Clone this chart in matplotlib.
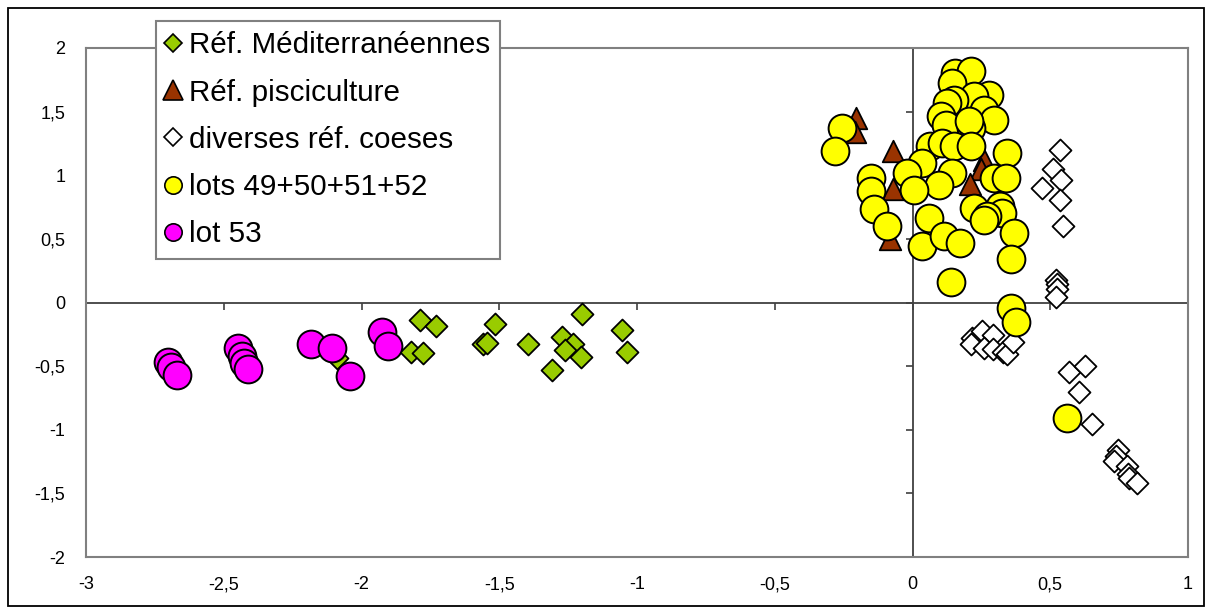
import matplotlib
matplotlib.use("Agg")
import matplotlib.pyplot as plt
from matplotlib.lines import Line2D
from matplotlib.patches import Rectangle

plt.rcParams['font.family'] = ['Liberation Sans', 'DejaVu Sans']

# --- data ---
med_x = [-2.09, -1.786, -1.728, -1.82, -1.776, -1.517, -1.56, -1.546, -1.394, -1.198,
         -1.272, -1.232, -1.262, -1.205, -1.307, -1.053, -1.038]
med_y = [-0.44, -0.139, -0.186, -0.39, -0.395, -0.17, -0.33, -0.322, -0.327, -0.092,
         -0.275, -0.325, -0.374, -0.427, -0.532, -0.217, -0.39]

pisc_x = [-0.205, -0.21, -0.07, -0.07, -0.08, 0.26, 0.25, 0.21]
pisc_y = [1.45, 1.34, 1.19, 0.89, 0.50, 1.12, 1.05, 0.93]

coes_x = [0.522, 0.525, 0.523, 0.522, 0.217, 0.253, 0.293, 0.213, 0.259, 0.293, 0.329,
          0.344, 0.364, 0.568, 0.626, 0.605, 0.653, 0.747, 0.739, 0.731, 0.779, 0.782,
          0.785, 0.816, 0.537, 0.511, 0.54, 0.471, 0.537, 0.547]
coes_y = [0.175, 0.149, 0.107, 0.045, -0.278, -0.225, -0.259, -0.33, -0.356, -0.364, -0.39,
          -0.403, -0.312, -0.547, -0.5, -0.705, -0.956, -1.16, -1.207, -1.246, -1.286, -1.351,
          -1.377, -1.417, 1.197, 1.05, 0.966, 0.901, 0.809, 0.6]

lots_x = [0.156, 0.211, 0.144, 0.277, 0.223, 0.15, 0.126, 0.259, 0.295, 0.102, 0.12, 0.211,
          0.204, 0.065, 0.108, 0.15, 0.211, 0.344, 0.035, -0.019, 0.144, 0.096, 0.005,
          -0.152, -0.152, -0.14, 0.223, 0.295, 0.338, 0.319, 0.326, 0.271, 0.368, -0.092,
          0.059, 0.035, 0.114, 0.174, 0.356, 0.138, 0.356, 0.376, 0.559, -0.255, -0.283,
          0.259]
lots_y = [1.804, 1.817, 1.726, 1.634, 1.62, 1.595, 1.569, 1.516, 1.438, 1.464, 1.398, 1.372,
          1.424, 1.228, 1.254, 1.228, 1.228, 1.176, 1.097, 1.019, 1.019, 0.927, 0.888,
          0.979, 0.874, 0.731, 0.744, 0.979, 0.979, 0.757, 0.705, 0.678, 0.548, 0.6,
          0.665, 0.442, 0.521, 0.469, 0.338, 0.16, -0.042, -0.152, -0.909, 1.372, 1.194,
          0.652]

lot53_x = [-2.703, -2.693, -2.671, -2.448, -2.434, -2.427, -2.411, -2.185, -2.106, -2.042,
           -1.924, -1.903]
lot53_y = [-0.469, -0.505, -0.571, -0.361, -0.42, -0.474, -0.521, -0.325, -0.356, -0.579,
           -0.233, -0.338]

xticks = [-3, -2.5, -2, -1.5, -1, -0.5, 0, 0.5, 1]
yticks = [-2, -1.5, -1, -0.5, 0, 0.5, 1, 1.5, 2]

labels = ['Réf. Méditerranéennes', 'Réf. pisciculture', 'diverses réf. coeses',
          'lots 49+50+51+52', 'lot 53']


def fmt(v):
    return ('%g' % v).replace('.', ',')


fig = plt.figure(figsize=(12.12, 6.10), dpi=100)
ax = fig.add_axes([86 / 1212, 1 - 557 / 610, (1188 - 86) / 1212, (557 - 48) / 610])

edge = 'black'
ax.scatter(med_x, med_y, marker='D', s=125, c='#99CC00', edgecolors=edge, linewidths=1.3, zorder=3)
ax.scatter(pisc_x, pisc_y, marker='^', s=240, c='#993300', edgecolors=edge, linewidths=1.3, zorder=4)
ax.scatter(coes_x, coes_y, marker='D', s=125, c='white', edgecolors=edge, linewidths=1.3, zorder=5)
ax.scatter(lots_x, lots_y, marker='o', s=400, c='#FFFF00', edgecolors=edge, linewidths=1.4, zorder=6)
ax.scatter(lot53_x, lot53_y, marker='o', s=400, c='#FF00FF', edgecolors=edge, linewidths=1.4, zorder=7)

ax.set_xlim(-3, 1)
ax.set_ylim(-2, 2)
ax.set_xticks(xticks)
ax.set_yticks(yticks)
ax.set_xticklabels([fmt(v) for v in xticks], fontsize=13)
ax.set_yticklabels([fmt(v) for v in yticks], fontsize=13)
ax.tick_params(length=0, pad=15)
ax.tick_params(axis='x', pad=14)
for sp in ax.spines.values():
    sp.set_color('#808080')
    sp.set_linewidth(1.5)

# axes crossing at zero, with small tick marks
ax.axhline(0, color='#404040', lw=1.3, zorder=1)
ax.axvline(0, color='#404040', lw=1.3, zorder=1)
ax.plot(xticks, [0] * len(xticks), ls='none', marker=3, ms=5, mew=1.2, color='#404040', zorder=1)
ax.plot([0] * len(yticks), yticks, ls='none', marker=0, ms=5, mew=1.2, color='#404040', zorder=1)

handles = [
    Line2D([], [], ls='none', marker='D', ms=9.5, mfc='#99CC00', mec=edge, mew=1.2),
    Line2D([], [], ls='none', marker='^', ms=14, mfc='#993300', mec=edge, mew=1.2),
    Line2D([], [], ls='none', marker='D', ms=9.5, mfc='white', mec=edge, mew=1.2),
    Line2D([], [], ls='none', marker='o', ms=12.5, mfc='#FFFF00', mec=edge, mew=1.2),
    Line2D([], [], ls='none', marker='o', ms=12.5, mfc='#FF00FF', mec=edge, mew=1.2),
]
leg = fig.legend(handles, labels, loc='upper left', bbox_to_anchor=(156 / 1212, 1 - 21 / 610),
                 fontsize=21.3, frameon=True, fancybox=False, framealpha=1,
                 edgecolor='#808080', handlelength=0.45, handletextpad=0.3,
                 labelspacing=0.65, borderpad=0.35, borderaxespad=0)
leg.get_frame().set_linewidth(1.5)
leg.set_zorder(10)

# outer chart border
fig.patches.append(Rectangle((8 / 1212, 4 / 610), 1196 / 1212, 598 / 610, transform=fig.transFigure,
                             fill=False, edgecolor='black', lw=1.3))

fig.savefig('out.png', dpi=100)
